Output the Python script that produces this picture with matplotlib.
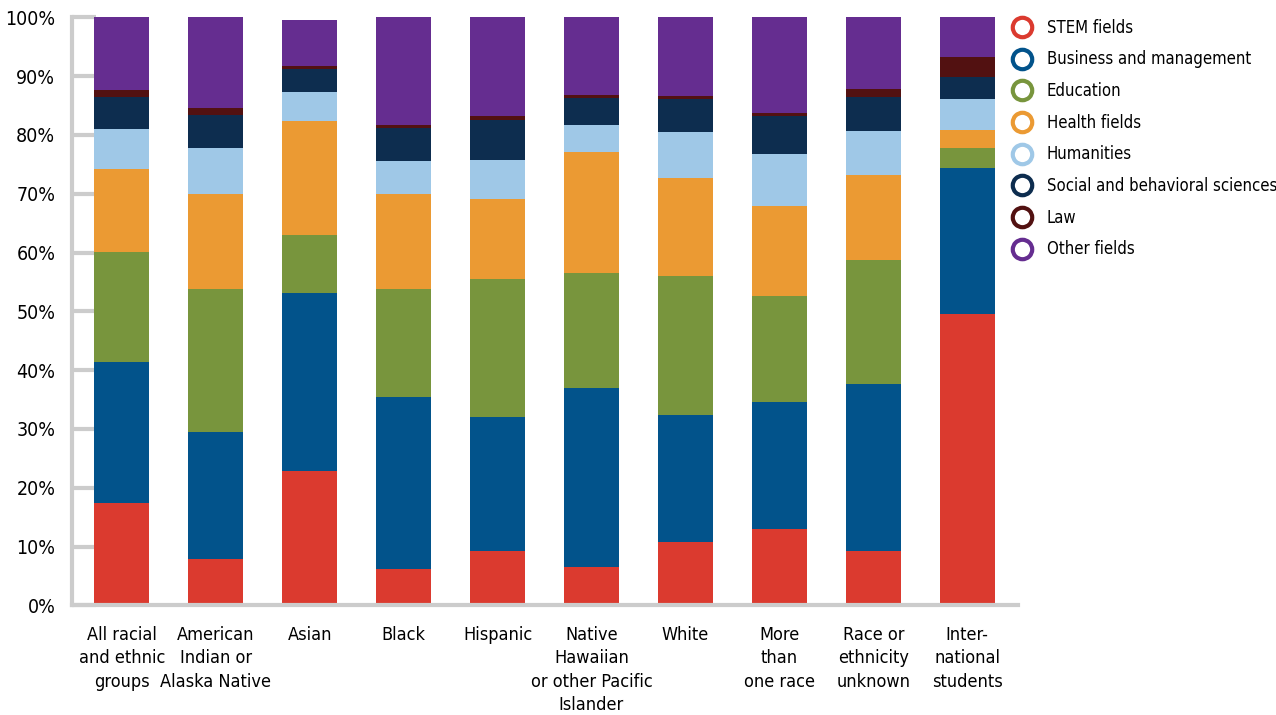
import numpy as np
import matplotlib
matplotlib.use("Agg")
import matplotlib.pyplot as plt
from matplotlib.lines import Line2D

plt.rcParams['font.family'] = ['DejaVu Sans']
plt.rcParams['font.stretch'] = 'condensed'

groups = ["All racial\nand ethnic\ngroups", "American\nIndian or\nAlaska Native", "Asian",
          "Black", "Hispanic", "Native\nHawaiian\nor other Pacific\nIslander", "White",
          "More\nthan\none race", "Race or\nethnicity\nunknown", "Inter-\nnational\nstudents"]

fields = ["STEM fields", "Business and management", "Education", "Health fields",
          "Humanities", "Social and behavioral sciences", "Law", "Other fields"]

stem       = [17.4,  7.8, 22.8,  6.2,  9.2,  6.5, 10.8, 13.0,  9.2, 49.5]
business   = [24.0, 21.7, 30.3, 29.2, 22.8, 30.5, 21.6, 21.6, 28.4, 24.9]
education  = [18.7, 24.3,  9.9, 18.4, 23.5, 19.5, 23.6, 18.0, 21.1,  3.4]
health     = [14.1, 16.2, 19.4, 16.2, 13.6, 20.6, 16.7, 15.3, 14.5,  3.0]
humanities = [ 6.8,  7.8,  4.9,  5.6,  6.6,  4.6,  7.8,  8.9,  7.4,  5.3]
social     = [ 5.5,  5.6,  3.9,  5.6,  6.8,  4.6,  5.6,  6.4,  5.8,  3.7]
law        = [ 1.1,  1.2,  0.5,  0.5,  0.7,  0.5,  0.5,  0.6,  1.4,  3.4]
other      = [12.5, 15.4,  7.9, 18.3, 16.8, 13.2, 13.4, 16.2, 12.2,  6.8]

series = [stem, business, education, health, humanities, social, law, other]
colors = ["#DB3A2F", "#02538B", "#78953D", "#EB9A33", "#9FC8E7", "#0D2D4F", "#521111", "#652D90"]

fig = plt.figure(figsize=(12.76, 7.15), dpi=100)
ax = fig.add_axes([0.0564, 0.1534, 0.7414, 0.8224])

x = np.arange(len(groups))
bottom = np.zeros(len(groups))
for vals, c, name in zip(series, colors, fields):
    ax.bar(x, vals, bottom=bottom, width=0.585, color=c, label=name, zorder=2)
    bottom += np.array(vals)

ax.set_xlim(-0.53, 9.54)
ax.set_ylim(0, 100)
ax.set_yticks(np.arange(0, 101, 10))
ax.set_yticklabels([f"{v}%" for v in range(0, 101, 10)], fontsize=14)
ax.set_xticks(x)
ax.set_xticklabels(groups, fontsize=13, linespacing=1.38, va='top')
ax.tick_params(axis='x', length=0, pad=15)
ax.tick_params(axis='y', direction='in', length=17, width=3, color='#cccccc', pad=12)

for s in ['top', 'right']:
    ax.spines[s].set_visible(False)
for s in ['left', 'bottom']:
    ax.spines[s].set_color('#cccccc')
    ax.spines[s].set_linewidth(3)

handles = [Line2D([], [], marker='o', linestyle='none', markersize=14, markerfacecolor='white',
                  markeredgecolor=c, markeredgewidth=3) for c in colors]
fig.legend(handles, fields, loc='upper left', bbox_to_anchor=(0.788, 0.983), frameon=False,
           fontsize=12, handletextpad=0.89, labelspacing=0.82, handlelength=1.2, borderaxespad=0)

fig.savefig("out.png", dpi=100)
